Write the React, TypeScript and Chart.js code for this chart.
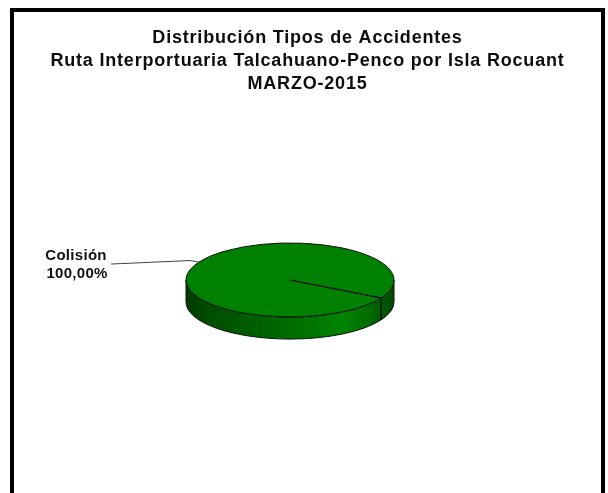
import React, { useEffect, useRef } from "react";
import { Chart, registerables } from "chart.js";

Chart.register(...registerables);

// ---- data ----
const titleLines = [
  "Distribución Tipos de Accidentes",
  "Ruta Interportuaria Talcahuano-Penco por Isla Rocuant",
  "MARZO-2015",
];
const categories = ["Colisión"];
const shareValues = [100];
const sliceColors = ["#008000"];

// ---- layout / look ----
const FRAME_LEFT = 10;
const FRAME_RIGHT = 605;
const FRAME_TOP = 8;
const TILT = 0.356; // ry / rx
const DEPTH = 0.212; // depth / rx

const fmtPct = (v: number, total: number) =>
  ((v / total) * 100).toFixed(2).replace(".", ",") + "%";

const titlePlugin = {
  id: "frameTitle",
  afterDraw(chart: any) {
    const ctx = chart.ctx as CanvasRenderingContext2D;
    ctx.save();
    (ctx as any).letterSpacing = "0.8px";
    ctx.font = "bold 18px 'Liberation Sans', Arial, sans-serif";
    ctx.fillStyle = "#0d0d0d";
    ctx.textAlign = "center";
    ctx.textBaseline = "middle";
    const cx = (FRAME_LEFT + FRAME_RIGHT) / 2;
    titleLines.forEach((t, i) => {
      ctx.fillText(t, cx, FRAME_TOP + 30.5 + i * 23);
    });
    ctx.restore();
  },
};

const pie3d = {
  id: "pie3d",
  beforeDatasetsDraw(chart: any) {
    const meta = chart.getDatasetMeta(0);
    const arcs = meta.data as any[];
    if (!arcs.length) return false;
    const ctx = chart.ctx as CanvasRenderingContext2D;
    const a0 = arcs[0];
    const cx = a0.x,
      cy = a0.y,
      rx = a0.outerRadius,
      ry = rx * TILT,
      depth = rx * DEPTH;
    ctx.save();
    ctx.lineJoin = "round";
    // side
    const grad = ctx.createLinearGradient(cx - rx, 0, cx + rx, 0);
    grad.addColorStop(0, "#003a00");
    grad.addColorStop(0.12, "#004e00");
    grad.addColorStop(0.4, "#006400");
    grad.addColorStop(0.6, "#007400");
    grad.addColorStop(0.75, "#008400");
    grad.addColorStop(0.88, "#006c00");
    grad.addColorStop(1, "#004800");
    const TWO = Math.PI * 2;
    arcs.forEach((arc) => {
      const s = arc.startAngle,
        e = arc.endAngle;
      for (let k = -2; k <= 3; k++) {
        const lo = Math.max(s, TWO * k),
          hi = Math.min(e, TWO * k + Math.PI);
        if (hi > lo) {
          ctx.beginPath();
          ctx.ellipse(cx, cy, rx, ry, 0, lo, hi, false);
          ctx.ellipse(cx, cy + depth, rx, ry, 0, hi, lo, true);
          ctx.closePath();
          ctx.fillStyle = grad;
          ctx.fill();
          ctx.strokeStyle = "#0a140a";
          ctx.lineWidth = 1;
          ctx.stroke();
        }
      }
    });
    // seams
    arcs.forEach((arc) => {
      let a = arc.startAngle % TWO;
      if (a < 0) a += TWO;
      if (a >= 0 && a <= Math.PI) {
        const px = cx + rx * Math.cos(a),
          py = cy + ry * Math.sin(a);
        ctx.beginPath();
        ctx.moveTo(px, py);
        ctx.lineTo(px, py + depth);
        ctx.strokeStyle = "#0a140a";
        ctx.lineWidth = 1;
        ctx.stroke();
      }
    });
    // top
    arcs.forEach((arc) => {
      ctx.beginPath();
      ctx.moveTo(cx, cy);
      ctx.ellipse(cx, cy, rx, ry, 0, arc.startAngle, arc.endAngle, false);
      ctx.closePath();
      ctx.fillStyle = arc.options.backgroundColor;
      ctx.fill();
      ctx.strokeStyle = "#0a140a";
      ctx.lineWidth = 1;
      ctx.stroke();
    });
    ctx.restore();
    return false;
  },
  afterDraw(chart: any) {
    const meta = chart.getDatasetMeta(0);
    const arcs = meta.data as any[];
    if (!arcs.length) return;
    const ctx = chart.ctx as CanvasRenderingContext2D;
    const data = chart.data.datasets[0].data as number[];
    const total = data.reduce((a, b) => a + b, 0);
    const labels = chart.data.labels as string[];
    arcs.forEach((arc, i) => {
      const cx = arc.x,
        cy = arc.y,
        rx = arc.outerRadius,
        ry = rx * TILT;
      const mid = (arc.startAngle + arc.endAngle) / 2;
      const px = cx + rx * Math.cos(mid),
        py = cy + ry * Math.sin(mid);
      ctx.save();
      ctx.beginPath();
      ctx.moveTo(px, py);
      ctx.lineTo(px - 9, py - 1.5);
      ctx.lineTo(px - 88, py + 2);
      ctx.strokeStyle = "#404040";
      ctx.lineWidth = 1;
      ctx.stroke();
      (ctx as any).letterSpacing = "0.3px";
      ctx.fillStyle = "#111111";
      ctx.font = "bold 15px 'Liberation Sans', Arial, sans-serif";
      ctx.textAlign = "center";
      ctx.textBaseline = "middle";
      ctx.fillText(labels[i], px - 123, py - 6);
      ctx.fillText(fmtPct(data[i], total), px - 122, py + 12);
      ctx.restore();
    });
  },
};

export default function App() {
  const ref = useRef<HTMLCanvasElement>(null);
  useEffect(() => {
    if (!ref.current) return;
    const chart = new Chart(ref.current, {
      type: "pie",
      data: {
        labels: categories,
        datasets: [
          {
            data: shareValues,
            backgroundColor: sliceColors,
            radius: 104,
            rotation: 119,
          } as any,
        ],
      },
      options: {
        animation: false,
        responsive: true,
        maintainAspectRatio: false,
        layout: { padding: { left: 0, right: 28, top: 100, bottom: 33 } },
        plugins: {
          legend: { display: false },
          tooltip: { enabled: false },
          title: { display: false },
        },
      },
      plugins: [pie3d, titlePlugin],
    });
    return () => chart.destroy();
  }, []);
  return (
    <div
      style={{
        position: "fixed",
        left: 0,
        top: 0,
        width: 608,
        height: 493,
        background: "#ffffff",
      }}
    >
      <div
        style={{
          position: "absolute",
          left: FRAME_LEFT,
          top: FRAME_TOP,
          width: FRAME_RIGHT - FRAME_LEFT,
          height: 500,
          boxSizing: "border-box",
          borderLeft: "4px solid #000",
          borderTop: "4px solid #000",
          borderRight: "4px solid #000",
        }}
      />
      <div style={{ position: "absolute", left: 0, top: 0, width: 608, height: 493 }}>
        <canvas ref={ref} />
      </div>
    </div>
  );
}
